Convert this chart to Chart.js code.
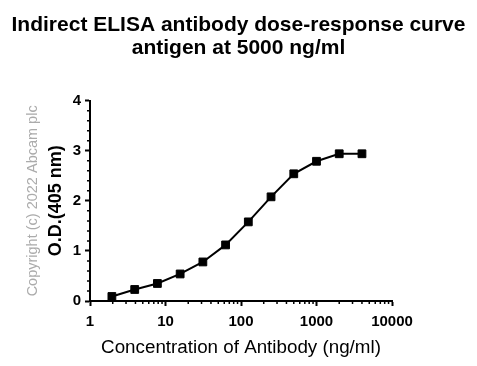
<!DOCTYPE html>
<html>
<head>
<meta charset="utf-8">
<script src="https://cdn.jsdelivr.net/npm/chart.js@4"></script>
<style>
  body { margin: 0; background: #fff; }
  canvas { display: block; }
</style>
</head>
<body>
<canvas id="myChart" width="477" height="366"></canvas>
<script>
const concentrations = [1.95, 3.91, 7.81, 15.63, 31.25, 62.5, 125, 250, 500, 1000, 2000, 4000];
const odValues = [0.09, 0.23, 0.35, 0.54, 0.78, 1.12, 1.58, 2.08, 2.54, 2.79, 2.94, 2.94];
const xMajorTicks = [1, 10, 100, 1000, 10000];
const xMinorTicks = [2, 3, 4, 5, 6, 7, 8, 9, 20, 30, 40, 50, 60, 70, 80, 90,
    200, 300, 400, 500, 600, 700, 800, 900, 2000, 3000, 4000, 5000, 6000, 7000, 8000, 9000];
const yMinorTicks = [0.2, 0.4, 0.6, 0.8, 1.2, 1.4, 1.6, 1.8, 2.2, 2.4, 2.6, 2.8, 3.2, 3.4, 3.6, 3.8];

const FONT = "'Liberation Sans', Arial, sans-serif";

// short ticks between the labelled ones
const minorTicks = {
    id: "minorTicks",
    afterDraw(chart) {
        const ctx = chart.ctx;
        const x = chart.scales.x;
        const y = chart.scales.y;
        ctx.save();
        ctx.strokeStyle = "#000";
        ctx.lineWidth = 1.5;
        ctx.beginPath();
        xMinorTicks.forEach(v => {
            const px = x.getPixelForValue(v);
            ctx.moveTo(px, y.bottom);
            ctx.lineTo(px, y.bottom + 3);
        });
        yMinorTicks.forEach(v => {
            const py = y.getPixelForValue(v);
            ctx.moveTo(x.left, py);
            ctx.lineTo(x.left - 3, py);
        });
        ctx.stroke();
        ctx.restore();
    }
};

const copyright = {
    id: "copyright",
    afterDraw(chart) {
        const ctx = chart.ctx;
        const area = chart.chartArea;
        ctx.save();
        ctx.translate(33, (area.top + area.bottom) / 2);
        ctx.rotate(-Math.PI / 2);
        ctx.font = "14.5px " + FONT;
        ctx.fillStyle = "#ababab";
        ctx.textAlign = "center";
        ctx.textBaseline = "middle";
        ctx.fillText("Copyright (c) 2022 Abcam plc", 0, 0);
        ctx.restore();
    }
};

const ctx = document.getElementById("myChart");
const myChart = new Chart(ctx, {
    type: "line",
    data: {
        datasets: [{
            data: concentrations.map((c, i) => ({ x: c, y: odValues[i] })),
            borderColor: "#000",
            borderWidth: 2,
            pointStyle: "rect",
            pointRadius: 5.5,
            pointBackgroundColor: "#000",
            pointBorderColor: "#000",
            pointBorderWidth: 1,
            tension: 0,
            clip: false
        }]
    },
    options: {
        responsive: false,
        animation: false,
        events: [],
        layout: { padding: 0 },
        plugins: {
            legend: { display: false },
            tooltip: { enabled: false },
            title: {
                display: true,
                text: ["Indirect ELISA antibody dose-response curve", "antigen at 5000 ng/ml"],
                color: "#000",
                font: { family: FONT, size: 21, weight: "bold", lineHeight: 1.1 },
                padding: { top: 13.5, bottom: 41 }
            }
        },
        scales: {
            x: {
                type: "logarithmic",
                min: 1,
                max: 10000,
                afterBuildTicks: scale => {
                    scale.ticks = xMajorTicks.map(v => ({ value: v }));
                },
                afterFit: scale => { scale.height = 65; },
                ticks: {
                    color: "#000",
                    font: { family: FONT, size: 15, weight: "bold" },
                    padding: 7,
                    maxRotation: 0,
                    callback: v => String(v)
                },
                grid: { drawOnChartArea: false, tickLength: 5, tickWidth: 2, tickColor: "#000" },
                border: { display: true, color: "#000", width: 2 },
                title: {
                    display: true,
                    text: "Concentration of Antibody (ng/ml)",
                    color: "#000",
                    font: { family: FONT, size: 18.8 },
                    padding: { top: 0, bottom: 7 }
                }
            },
            y: {
                min: 0,
                max: 4,
                afterFit: scale => { scale.width = 90; },
                ticks: {
                    stepSize: 1,
                    color: "#000",
                    font: { family: FONT, size: 15, weight: "bold" },
                    padding: 4
                },
                grid: { drawOnChartArea: false, tickLength: 5, tickWidth: 2, tickColor: "#000" },
                border: { display: true, color: "#000", width: 2 },
                title: {
                    display: true,
                    text: "O.D.(405 nm)",
                    color: "#000",
                    font: { family: FONT, size: 18, weight: "bold" },
                    padding: { top: 45, bottom: 0 }
                }
            },
            // empty space on the right, keeps the title centred on the page
            right: {
                position: "right",
                afterFit: scale => { scale.width = 85; },
                ticks: { display: false },
                grid: { display: false },
                border: { display: false }
            }
        }
    },
    plugins: [minorTicks, copyright]
});
</script>
</body>
</html>
